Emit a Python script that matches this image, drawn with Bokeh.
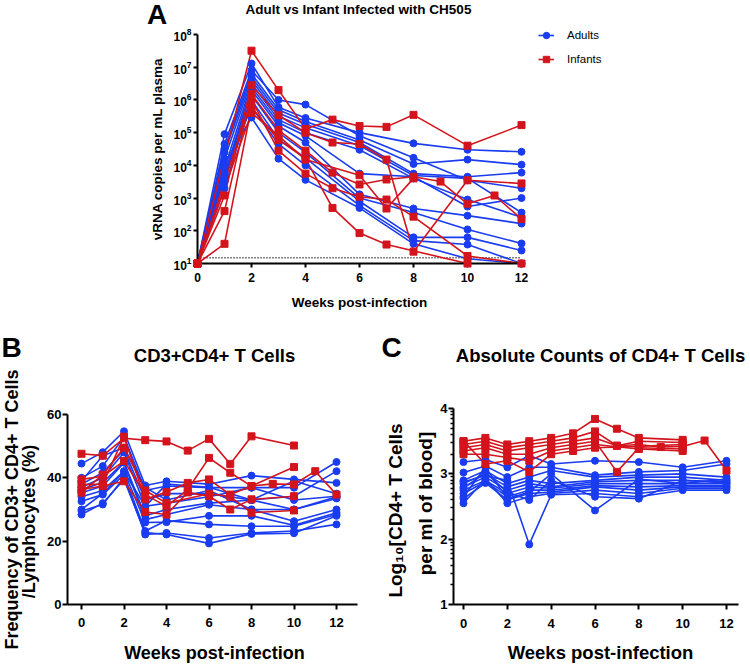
import math
from bokeh.plotting import figure
from bokeh.models import Range1d, FixedTicker, Legend, LegendItem
from bokeh.layouts import column, row
from bokeh.embed import file_html
from bokeh.resources import INLINE
from bokeh.core.properties import value

FONT = "Liberation Sans"
BLUE = "#1a3cf0"
RED = "#d4141c"

# ---------------- Panel A: viral load (copies/mL) ----------------
vl_adult_weeks = [0, 1, 2, 3, 4, 6, 8, 10, 12]
vl_adults = [
    [10, 9e4, 1.3e7, 6e5, 2.8e5, 1e5, 4.7e4, 3e4, 2.6e4],
    [10, 4.5e4, 8e6, 1e6, 7.2e5, 8e4, 1.7e4, 3.5e3, 2e3],
    [10, 3.2e4, 6.3e6, 5e5, 2.2e5, 6e4, 1.1e4, 1.5e4, 1.05e4],
    [10, 2.5e4, 5e6, 4e5, 1.8e5, 5e4, 5.6e3, 4.5e3, 6e3],
    [10, 1.6e4, 4e6, 3.2e5, 1.4e5, 4e4, 4.9e3, 4e3, 3.6e2],
    [10, 8e3, 3.2e6, 2.5e5, 1e5, 3e4, 4e3, 9e2, 2.6e2],
    [10, 5e3, 2.5e6, 2e5, 8e4, 5.6e3, 4.5e3, 5.5e2, 1e3],
    [10, 4e3, 2e6, 1.6e5, 5e4, 1.3e3, 4.8e2, 2.9e2, 1.66e2],
    [10, 3.2e3, 1.4e6, 1e5, 2.5e4, 1e3, 3.6e2, 1.1e2, 41],
    [10, 2e3, 1e6, 6.3e4, 1.7e4, 8e2, 63, 63, 25],
    [10, 6.3e3, 6e5, 4.5e4, 1e4, 6e2, 50, 38, 10],
    [10, 1.1e4, 2.9e5, 1.6e4, 3.6e3, 5e2, 40, 14, 10],
]
vl_infant_weeks = [
    [0, 2, 3, 4, 5, 6, 7, 8, 10, 12],
    [0, 1, 2, 3, 4, 5, 6, 7, 8, 10, 12],
    [0, 1, 2, 3, 4, 5, 6, 7, 8, 9, 10, 11, 12],
    [0, 2, 3, 4, 5, 6, 7, 8, 10, 12],
    [0, 1, 2, 3, 4, 5, 6, 7, 10],
    [0, 2, 3, 4, 6, 7, 8],
]
vl_infants = [
    [10, 3.2e7, 2e6, 1.3e5, 2.5e5, 1.6e5, 1.5e5, 3.5e5, 4e4, 1.7e5],
    [10, 1.2e3, 2.8e6, 3.4e5, 1e5, 5e4, 4.5e4, 1.5e4, 23, 3.5e3, 2.8e3],
    [10, 4e2, 1.5e6, 1.2e5, 2.8e4, 6e3, 2.6e3, 3.7e3, 4.5e3, 3.2e3, 6.7e2, 1.2e3, 2.3e2],
    [10, 1e6, 2.8e4, 5.6e3, 2e3, 1.1e3, 9e2, 2.7e2, 17, 10],
    [10, 40, 6e5, 6e4, 1.6e4, 5e2, 85, 38, 10],
    [10, 4e5, 8e4, 1.5e4, 5e3, 4.8e2, 4e3],
]
vl_limit = 15
vl_ticks = [10, 1e2, 1e3, 1e4, 1e5, 1e6, 1e7, 1e8]
week_ticks = [0, 2, 4, 6, 8, 10, 12]

# ---------------- Panel B: CD3+CD4+ frequency (%) ----------------
pct_adult_weeks = [0, 1, 2, 3, 4, 6, 8, 10, 12]
pct_adults = [
    [44.5, 48.1, 54.7, 37.6, 38.9, 38.0, 40.7, 39.5, 38.4],
    [40.0, 43.7, 53.0, 36.0, 37.4, 36.9, 36.9, 36.9, 45.0],
    [38.0, 41.6, 48.9, 33.0, 35.0, 35.0, 33.0, 34.2, 42.1],
    [37.0, 40.0, 48.0, 31.0, 32.0, 34.0, 36.9, 33.0, 34.2],
    [36.3, 38.5, 45.0, 28.0, 30.0, 32.0, 33.0, 30.0, 33.5],
    [35.3, 37.4, 44.8, 26.8, 28.4, 31.5, 30.0, 26.3, 30.0],
    [34.0, 36.0, 42.1, 25.9, 26.0, 28.0, 28.0, 25.0, 29.0],
    [32.6, 34.7, 41.0, 23.2, 26.5, 25.3, 24.7, 24.7, 28.4],
    [29.5, 31.6, 40.0, 22.1, 22.6, 21.0, 22.6, 23.2, 25.3],
    [28.4, 32.0, 39.5, 22.7, 22.1, 19.3, 22.3, 22.5, 28.0],
    [30.0, 35.0, 42.0, 31.0, 38.0, 37.0, 33.0, 39.0, 35.0],
    [39.0, 47.0, 49.5, 37.0, 33.0, 36.0, 30.0, 30.0, 34.0],
]
pct_infant_weeks = [
    [0, 1, 2, 3, 4, 5, 6, 7, 8, 10],
    [0, 1, 2, 3, 4, 5, 6, 7, 8, 10],
    [0, 1, 2, 3, 4, 5, 6, 7, 8, 9, 10, 11, 12],
    [0, 1, 2, 3, 4, 5, 6, 7, 8, 10],
    [0, 1, 2, 3, 4, 6, 7, 8, 10],
]
pct_infants = [
    [47.6, 47.0, 52.5, 51.9, 51.5, 48.6, 52.3, 44.4, 53.1, 50.2],
    [39.5, 40.5, 45.3, 34.7, 31.0, 36.3, 46.3, 41.6, 37.4, 43.4],
    [37.9, 38.0, 53.0, 33.2, 35.5, 38.4, 39.5, 34.7, 37.4, 38.1, 37.9, 42.1, 34.7],
    [36.3, 37.4, 38.9, 29.2, 28.4, 35.4, 34.2, 30.0, 33.2, 34.2],
    [35.3, 41.0, 49.5, 36.0, 32.0, 35.0, 34.0, 29.0, 29.7],
]
pct_ticks = [0, 20, 40, 60]

# ---------------- Panel C: log10 CD4+ counts ----------------
abs_adult_weeks = [0, 1, 2, 3, 4, 6, 8, 10, 12]
abs_adults = [
    [3.18, 3.22, 3.10, 3.28, 3.15, 3.20, 3.18, 3.10, 3.20],
    [3.02, 3.12, 2.95, 3.10, 3.10, 2.98, 3.03, 3.05, 3.15],
    [2.90, 3.05, 2.85, 2.95, 3.05, 2.95, 2.98, 3.00, 2.95],
    [2.85, 3.00, 2.80, 2.90, 2.85, 2.90, 2.95, 2.95, 2.90],
    [2.80, 2.95, 2.75, 2.85, 2.80, 2.88, 2.90, 2.90, 2.88],
    [2.75, 2.90, 2.70, 2.80, 2.78, 2.85, 2.85, 2.85, 2.85],
    [2.70, 2.88, 2.65, 2.75, 2.75, 2.82, 2.80, 2.82, 2.82],
    [2.62, 2.86, 2.60, 2.70, 2.72, 2.80, 2.75, 2.80, 2.80],
    [2.55, 2.92, 2.55, 2.65, 2.70, 2.75, 2.70, 2.78, 2.78],
    [2.88, 2.97, 2.90, 1.92, 2.68, 2.70, 2.65, 2.75, 2.75],
    [2.78, 3.02, 2.72, 2.60, 2.90, 2.65, 2.62, 2.90, 2.86],
    [2.65, 3.10, 2.62, 2.72, 3.00, 2.44, 2.92, 2.85, 2.92],
]
abs_infant_weeks = [
    [0, 1, 2, 3, 4, 5, 6, 7, 8, 10],
    [0, 1, 2, 3, 4, 5, 6, 7, 8, 10],
    [0, 1, 2, 3, 4, 5, 6, 7, 8, 9, 10, 11, 12],
    [0, 1, 2, 3, 4, 5, 6, 7, 8, 10],
    [0, 1, 2, 3, 4, 5, 6, 8, 10],
    [0, 1, 2, 3, 4, 5, 6, 8, 10],
]
abs_infants = [
    [3.50, 3.55, 3.45, 3.50, 3.55, 3.62, 3.84, 3.69, 3.55, 3.52],
    [3.45, 3.50, 3.40, 3.45, 3.50, 3.55, 3.65, 3.43, 3.50, 3.48],
    [3.40, 3.45, 3.35, 3.40, 3.45, 3.50, 3.55, 3.43, 3.45, 3.41, 3.42, 3.51, 3.05],
    [3.35, 3.40, 3.30, 3.30, 3.40, 3.45, 3.50, 3.03, 3.40, 3.38],
    [3.30, 3.30, 3.25, 3.20, 3.35, 3.40, 3.45, 3.38, 3.35],
    [3.50, 3.15, 3.20, 3.03, 3.30, 3.35, 3.40, 3.42, 3.45],
]
abs_ticks = [1, 2, 3, 4]


def style(p, tick_size):
    p.grid.visible = False
    p.outline_line_color = None
    for ax in (p.xaxis[0], p.yaxis[0]):
        ax.axis_line_width = 2
        ax.axis_line_color = "black"
        ax.major_tick_line_width = 2
        ax.major_tick_line_color = "black"
        ax.major_tick_out = 5
        ax.major_tick_in = 0
        ax.minor_tick_line_color = None
        ax.major_label_text_font = FONT
        ax.major_label_text_font_style = "bold"
        ax.major_label_text_font_size = tick_size
        ax.major_label_text_color = "black"


def draw(p, weeks_list, vals_list, color, marker, size=7, top=False):
    first = None
    for w, v in zip(weeks_list, vals_list):
        lr = p.line(w, v, line_color=color, line_width=1.6)
        sr = p.scatter(w, v, marker=marker, size=size, fill_color=color, line_color=color)
        if top:
            sr.level = "overlay"
        if first is None:
            first = [lr, sr]
    return first


def txt(p, xy, s, size, angle=0.0):
    x, y = xy
    p.text(x=[x], y=[y], text=[s], text_font=value(FONT), text_font_size=size,
           text_font_style="bold", text_color="black", text_align="center",
           text_baseline="middle", angle=angle, level="overlay")


# ================= Panel A (page 0..750 x 0..320) =================
AX0, AXS, AY8, AYD = 197.0, 27.0, 34.0, 32.714


def a_xy(px, py):
    return (px - AX0) / AXS, 10 ** (8 - (py - AY8) / AYD)


pA = figure(width=750, height=320, output_backend="svg", toolbar_location=None,
            x_range=Range1d(0, a_xy(750, 0)[0]), y_range=Range1d(10, a_xy(0, 0)[1]),
            y_axis_type="log",
            min_border_left=197, min_border_right=0, min_border_top=0, min_border_bottom=57)
style(pA, "12px")
pA.xaxis.bounds = (0, 12)
pA.yaxis.bounds = (10, 1e8)
pA.xaxis.ticker = FixedTicker(ticks=week_ticks)
pA.yaxis.ticker = FixedTicker(ticks=vl_ticks)
pA.xaxis.major_tick_out = 4
pA.yaxis.major_tick_out = 4
pA.xaxis.major_label_standoff = 5
pA.yaxis.major_label_standoff = 2

pA.line([0, 12], [vl_limit, vl_limit], line_color="black", line_width=1.3, line_dash="1 2")
ad = draw(pA, [vl_adult_weeks] * len(vl_adults), vl_adults, BLUE, "circle", top=True)
inf = draw(pA, vl_infant_weeks, vl_infants, RED, "square", top=True)

legend = Legend(items=[LegendItem(label="Adults", renderers=ad),
                       LegendItem(label="Infants", renderers=inf)],
                location=(538 - 197, 263 - 67), orientation="vertical", glyph_width=16, glyph_height=16,
                label_height=16, spacing=8, padding=0, margin=0, label_standoff=13,
                label_text_font=FONT, label_text_font_size="11.5px", label_text_color="black",
                border_line_color=None, background_fill_alpha=0)
pA.add_layout(legend)

txt(pA, a_xy(156.5, 14), "A", "28px")
txt(pA, a_xy(358, 9), "Adult vs Infant Infected with CH505", "13.5px")
txt(pA, a_xy(157, 148.5), "vRNA copies per mL plasma", "13.5px", angle=math.pi / 2)
txt(pA, a_xy(359, 302), "Weeks post-infection", "13.5px")

# ================= Panel B (page 0..375 x 320..665) =================
BX0, BXS, BY0, BYS = 81.0, 21.25, 604.0, 3.1667


def b_xy(px, py):
    return (px - BX0) / BXS, (BY0 - py) / BYS


pB = figure(width=375, height=345, output_backend="svg", toolbar_location=None,
            x_range=Range1d(b_xy(67, 0)[0], b_xy(357, 0)[0]), y_range=Range1d(0, b_xy(0, 320)[1]),
            min_border_left=67, min_border_right=18, min_border_top=0, min_border_bottom=61)
style(pB, "13px")
pB.xaxis.ticker = FixedTicker(ticks=week_ticks)
pB.yaxis.ticker = FixedTicker(ticks=pct_ticks)
pB.yaxis.bounds = (0, 60)
pB.xaxis.major_label_standoff = 8
pB.yaxis.major_label_standoff = 1
draw(pB, [pct_adult_weeks] * len(pct_adults), pct_adults, BLUE, "circle")
draw(pB, pct_infant_weeks, pct_infants, RED, "square")
txt(pB, b_xy(11, 347), "B", "28px")
txt(pB, b_xy(214, 355), "CD3+CD4+ T Cells", "18.5px")
txt(pB, b_xy(11, 509), "Frequency of CD3+ CD4+ T Cells", "18px", angle=math.pi / 2)
txt(pB, b_xy(28, 521), "/Lymphocytes (%)", "18px", angle=math.pi / 2)
txt(pB, b_xy(214, 652), "Weeks post-infection", "18px")

# ================= Panel C (page 375..750 x 320..665) =================
CX0, CXS, CY1, CYS = 463.0, 21.917, 604.0, 65.33


def c_xy(px, py):
    return (px - CX0) / CXS, 1 + (CY1 - py) / CYS


pC = figure(width=375, height=345, output_backend="svg", toolbar_location=None,
            x_range=Range1d(c_xy(453, 0)[0], c_xy(738, 0)[0]), y_range=Range1d(1, c_xy(0, 320)[1]),
            min_border_left=78, min_border_right=12, min_border_top=0, min_border_bottom=61)
style(pC, "13px")
pC.xaxis.ticker = FixedTicker(ticks=week_ticks)
pC.yaxis.ticker = FixedTicker(ticks=abs_ticks,
                              minor_ticks=[n + math.log10(k) for n in (1, 2, 3) for k in range(2, 10)])
pC.yaxis.bounds = (1, 4)
pC.yaxis.minor_tick_line_color = "black"
pC.yaxis.minor_tick_line_width = 1.5
pC.yaxis.minor_tick_out = 3
pC.yaxis.minor_tick_in = 0
pC.xaxis.major_label_standoff = 9
pC.yaxis.major_label_standoff = 1
draw(pC, [abs_adult_weeks] * len(abs_adults), abs_adults, BLUE, "circle")
draw(pC, abs_infant_weeks, abs_infants, RED, "square")
txt(pC, c_xy(391, 347), "C", "28px")
txt(pC, c_xy(600, 355), "Absolute Counts of CD4+ T Cells", "18.5px")
txt(pC, c_xy(395, 510), "Log\u2081\u2080[CD4+ T Cells", "19px", angle=math.pi / 2)
txt(pC, c_xy(425, 503), "per ml of blood]", "19px", angle=math.pi / 2)
txt(pC, c_xy(600, 652), "Weeks post-infection", "18.5px")

layout = column(row(pA), row(pB, pC))
open("out.html", "w").write(file_html(layout, INLINE))
